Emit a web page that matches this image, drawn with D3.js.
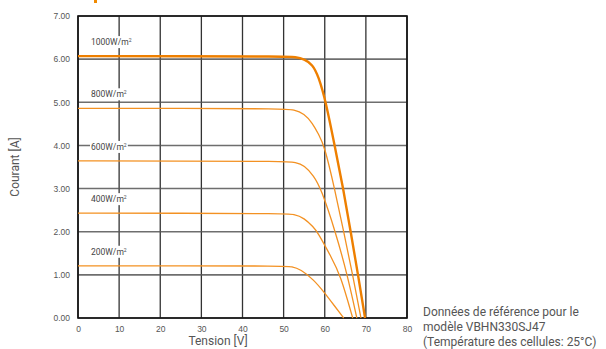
<!DOCTYPE html>
<html>
<head>
<meta charset="utf-8">
<script src="https://cdn.jsdelivr.net/npm/d3@7"></script>
<style>
  body { margin: 0; background: #fff; }
  svg { display: block; font-family: Roboto, "DejaVu Sans", sans-serif; }
</style>
</head>
<body>
<script>
// irradiance levels and their I-V points [tension V, courant A]
var irradiances = ["1000", "800", "600", "400", "200"];
var curve1000 = [[0,6.07],[25,6.07],[50,6.06],[53,6.05],[55,6.0],[57,5.88],[58.5,5.6],[60.3,5.0],[62.4,4.0],[64.5,3.0],[66.3,2.0],[68.1,1.0],[69.8,0]];
var curve800 = [[0,4.86],[25,4.86],[50,4.85],[52.5,4.83],[55,4.74],[57,4.52],[58.5,4.26],[59.9,4.0],[62.4,3.0],[64.6,2.0],[66.8,1.0],[68.8,0]];
var curve600 = [[0,3.64],[25,3.64],[50,3.63],[53,3.61],[55,3.54],[57.3,3.3],[59.1,3.0],[62.6,2.0],[65.5,1.0],[67.8,0]];
var curve400 = [[0,2.43],[25,2.43],[50,2.42],[52.5,2.41],[55,2.32],[57.3,2.1],[58.2,2.0],[61.7,1.39],[63.8,1.0],[66.8,0]];
var curve200 = [[0,1.21],[25,1.21],[50,1.205],[52,1.195],[54.1,1.13],[57.3,0.89],[60,0.58],[62.3,0.29],[64.6,0]];
var curves = [curve1000, curve800, curve600, curve400, curve200];
var xTicks = [0, 10, 20, 30, 40, 50, 60, 70, 80];
var yTicks = [0, 1, 2, 3, 4, 5, 6, 7];
var noteLines = ["Données de référence pour le", "modèle VBHN330SJ47", "(Température des cellules: 25°C)"];

var W = 606, H = 349;
var margin = {top: 16, right: 199, bottom: 31, left: 78};
var width = W - margin.left - margin.right,
    height = H - margin.top - margin.bottom;

var svg = d3.select("body").append("svg")
  .attr("width", W)
  .attr("height", H);

// cut-off heading mark at the very top
svg.append("rect").attr("x", 94).attr("y", 0).attr("width", 3).attr("height", 3).attr("fill", "#f08a00");

var g = svg.append("g")
  .attr("transform", "translate(" + margin.left + "," + margin.top + ")");

var x = d3.scaleLinear().domain([0, 80]).range([0, width]);
var y = d3.scaleLinear().domain([0, 7]).range([height, 0]);

// grid
g.selectAll(".vgrid").data(xTicks).enter().append("line")
  .attr("x1", function (d) { return x(d); }).attr("x2", function (d) { return x(d); })
  .attr("y1", 0).attr("y2", height)
  .attr("stroke", "#333").attr("stroke-width", 1.3);
g.selectAll(".hgrid").data(yTicks).enter().append("line")
  .attr("x1", 0).attr("x2", width)
  .attr("y1", function (d) { return y(d); }).attr("y2", function (d) { return y(d); })
  .attr("stroke", "#555").attr("stroke-width", 1.6).attr("stroke-opacity", 0.85);

// frame
g.append("rect").attr("width", width).attr("height", height)
  .attr("fill", "none").attr("stroke", "#111").attr("stroke-width", 1.6);

// axes
var xAxis = d3.axisBottom(x).tickValues(xTicks).tickSize(0).tickPadding(8).tickFormat(d3.format("d"));
var yAxis = d3.axisLeft(y).tickValues(yTicks).tickSize(0).tickPadding(8).tickFormat(d3.format(".2f"));

g.append("g").attr("transform", "translate(0," + height + ")").call(xAxis)
  .call(function (s) { s.select(".domain").remove(); })
  .selectAll("text").attr("font-size", 8.5).attr("fill", "#555");
g.append("g").call(yAxis)
  .call(function (s) { s.select(".domain").remove(); })
  .selectAll("text").attr("font-size", 8.5).attr("fill", "#555");

// labels for each irradiance (white box over grid)
curves.forEach(function (c, i) {
  var lg = g.append("g")
    .attr("transform", "translate(" + (x(0) + 13) + "," + (y(c[0][1]) - 14) + ")");
  var t = lg.append("text").attr("font-size", 8.5).attr("fill", "#444").attr("dy", "0.35em");
  t.append("tspan").text(irradiances[i] + "W/m");
  t.append("tspan").attr("font-size", 5).attr("dy", "-0.6em").text("2");
  var bb = t.node().getBBox();
  lg.insert("rect", "text")
    .attr("x", bb.x - 1).attr("y", bb.y - 1)
    .attr("width", bb.width + 2).attr("height", bb.height + 2)
    .attr("fill", "#fff");
});

// curves
var line = d3.line()
  .x(function (d) { return x(d[0]); })
  .y(function (d) { return y(d[1]); })
  .curve(d3.curveBasis);

g.selectAll(".iv").data(curves).enter().append("path")
  .attr("d", line)
  .attr("fill", "none")
  .attr("stroke", function (d, i) { return i === 0 ? "#ee7f00" : "#f39122"; })
  .attr("stroke-width", function (d, i) { return i === 0 ? 2.4 : 1.3; });

// axis titles
svg.append("text")
  .attr("transform", "translate(19," + (margin.top + height / 2) + ") rotate(-90)")
  .attr("text-anchor", "middle")
  .attr("font-size", 12).attr("fill", "#555")
  .text("Courant [A]");
svg.append("text")
  .attr("x", 218).attr("y", 345)
  .attr("text-anchor", "middle")
  .attr("font-size", 12).attr("fill", "#555")
  .text("Tension [V]");

// reference note
svg.append("g").selectAll("text").data(noteLines).enter().append("text")
  .attr("x", 423)
  .attr("y", function (d, i) { return 316 + i * 15; })
  .attr("font-size", 12).attr("fill", "#555")
  .text(function (d) { return d; });
</script>
</body>
</html>
